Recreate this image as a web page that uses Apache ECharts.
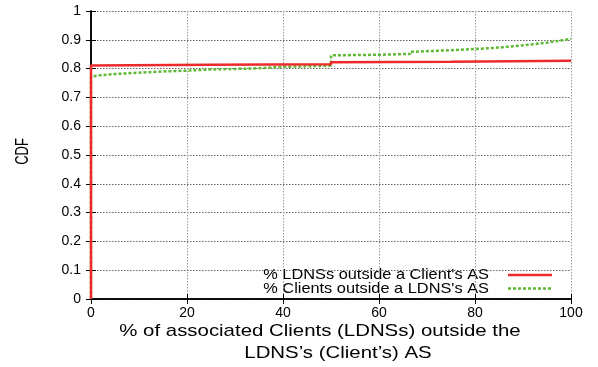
<!DOCTYPE html>
<html>
<head>
<meta charset="utf-8">
<script src="https://cdn.jsdelivr.net/npm/echarts@6/dist/echarts.min.js"></script>
<style>
html,body{margin:0;padding:0;background:#fff;}
#chart{width:598px;height:367px;}
</style>
</head>
<body>
<div id="chart"></div>
<script>
// ---- data ----
const xTicks = [0, 20, 40, 60, 80, 100];
const yTicks = [0, 0.1, 0.2, 0.3, 0.4, 0.5, 0.6, 0.7, 0.8, 0.9, 1];
const seriesNames = ["% LDNSs outside a Client's AS", "% Clients outside a LDNS's AS"];
const redX = [0, 0, 25, 50, 50, 75, 100];
const redY = [0, 0.811, 0.813, 0.815, 0.822, 0.824, 0.827];
const greenX = [0, 0, 2, 5, 10, 15, 20, 25, 33, 33, 40, 50, 50, 60, 66.5, 66.5, 75, 80, 85, 90, 95, 100];
const greenY = [0, 0.772, 0.777, 0.781, 0.786, 0.790, 0.793, 0.797, 0.800, 0.804, 0.806, 0.810, 0.846, 0.848, 0.851, 0.858, 0.864, 0.868, 0.873, 0.881, 0.890, 0.903];
const xTitle1 = "% of associated Clients (LDNSs) outside the";
const xTitle2 = "LDNS\u2019s (Client\u2019s) AS";
const yTitle = "CDF";

const RED = '#ec2a2c';
const GREEN = '#5fb833';
const FONT = 'Liberation Sans, Arial, sans-serif';

const pairs = (xs, ys) => xs.map((x, i) => [x, ys[i]]);

const chart = echarts.init(document.getElementById('chart'), null, {renderer: 'canvas'});

const frameLine = {show: true, lineStyle: {color: '#000', width: 1.5}};
const tick = {show: true, inside: true, length: 5, lineStyle: {color: '#000', width: 1}};

chart.setOption({
  animation: false,
  backgroundColor: '#fff',
  grid: {left: 91, right: 27, top: 11, bottom: 68, containLabel: false},
  xAxis: [
    {
      type: 'value', min: xTicks[0], max: xTicks[xTicks.length - 1], interval: 20,
      position: 'bottom',
      axisLine: frameLine, axisTick: tick,
      axisLabel: {color: '#000', fontSize: 14, fontFamily: FONT, margin: 7},
      splitLine: {show: true, lineStyle: {color: '#999', width: 1, type: [1.5, 1.5]}}
    },
    {
      type: 'value', min: xTicks[0], max: xTicks[xTicks.length - 1], interval: 20,
      position: 'top',
      axisLine: frameLine, axisTick: tick,
      axisLabel: {show: false}, splitLine: {show: false}
    }
  ],
  yAxis: [
    {
      type: 'value', min: yTicks[0], max: yTicks[yTicks.length - 1], interval: 0.1,
      position: 'left',
      axisLine: frameLine, axisTick: tick,
      axisLabel: {color: '#000', fontSize: 14, fontFamily: FONT, margin: 10,
        formatter: v => String(Math.round(v * 10) / 10)},
      splitLine: {show: true, lineStyle: {color: '#666', width: 1, type: [1.5, 1.5]}}
    },
    {
      type: 'value', min: yTicks[0], max: yTicks[yTicks.length - 1], interval: 0.1,
      position: 'right',
      axisLine: frameLine, axisTick: tick,
      axisLabel: {show: false}, splitLine: {show: false}
    }
  ],
  series: [
    {
      name: seriesNames[1], type: 'line', xAxisIndex: 0, yAxisIndex: 0,
      data: pairs(greenX, greenY), symbol: 'none', z: 3,
      lineStyle: {color: GREEN, width: 2.5, type: [3, 2]}
    },
    {
      name: seriesNames[0], type: 'line', xAxisIndex: 0, yAxisIndex: 0,
      data: pairs(redX, redY), symbol: 'none', z: 4,
      lineStyle: {color: RED, width: 2.5}
    }
  ],
  graphic: [
    {type: 'text', x: 320, y: 331, scaleX: 1.2, silent: true,
      style: {text: xTitle1, fill: '#000', font: '17px ' + FONT, align: 'center', verticalAlign: 'middle'}},
    {type: 'text', x: 338, y: 353, scaleX: 1.2, silent: true,
      style: {text: xTitle2, fill: '#000', font: '17px ' + FONT, align: 'center', verticalAlign: 'middle'}},
    {type: 'text', x: 23.5, y: 151.5, rotation: Math.PI / 2, scaleY: 1.38, silent: true,
      style: {text: yTitle, fill: '#000', font: '13px ' + FONT, align: 'center', verticalAlign: 'middle'}},
    // legend
    {type: 'text', x: 489, y: 275, scaleX: 1.09, silent: true,
      style: {text: seriesNames[0], fill: '#000', font: '15px ' + FONT, align: 'right', verticalAlign: 'middle'}},
    {type: 'text', x: 489, y: 289, scaleX: 1.09, silent: true,
      style: {text: seriesNames[1], fill: '#000', font: '15px ' + FONT, align: 'right', verticalAlign: 'middle'}},
    {type: 'line', silent: true, shape: {x1: 508, y1: 275, x2: 552, y2: 275},
      style: {stroke: RED, lineWidth: 2.5}},
    {type: 'line', silent: true, shape: {x1: 508, y1: 288.5, x2: 552, y2: 288.5},
      style: {stroke: GREEN, lineWidth: 2.5, lineDash: [3, 2]}}
  ]
});
</script>
</body>
</html>
